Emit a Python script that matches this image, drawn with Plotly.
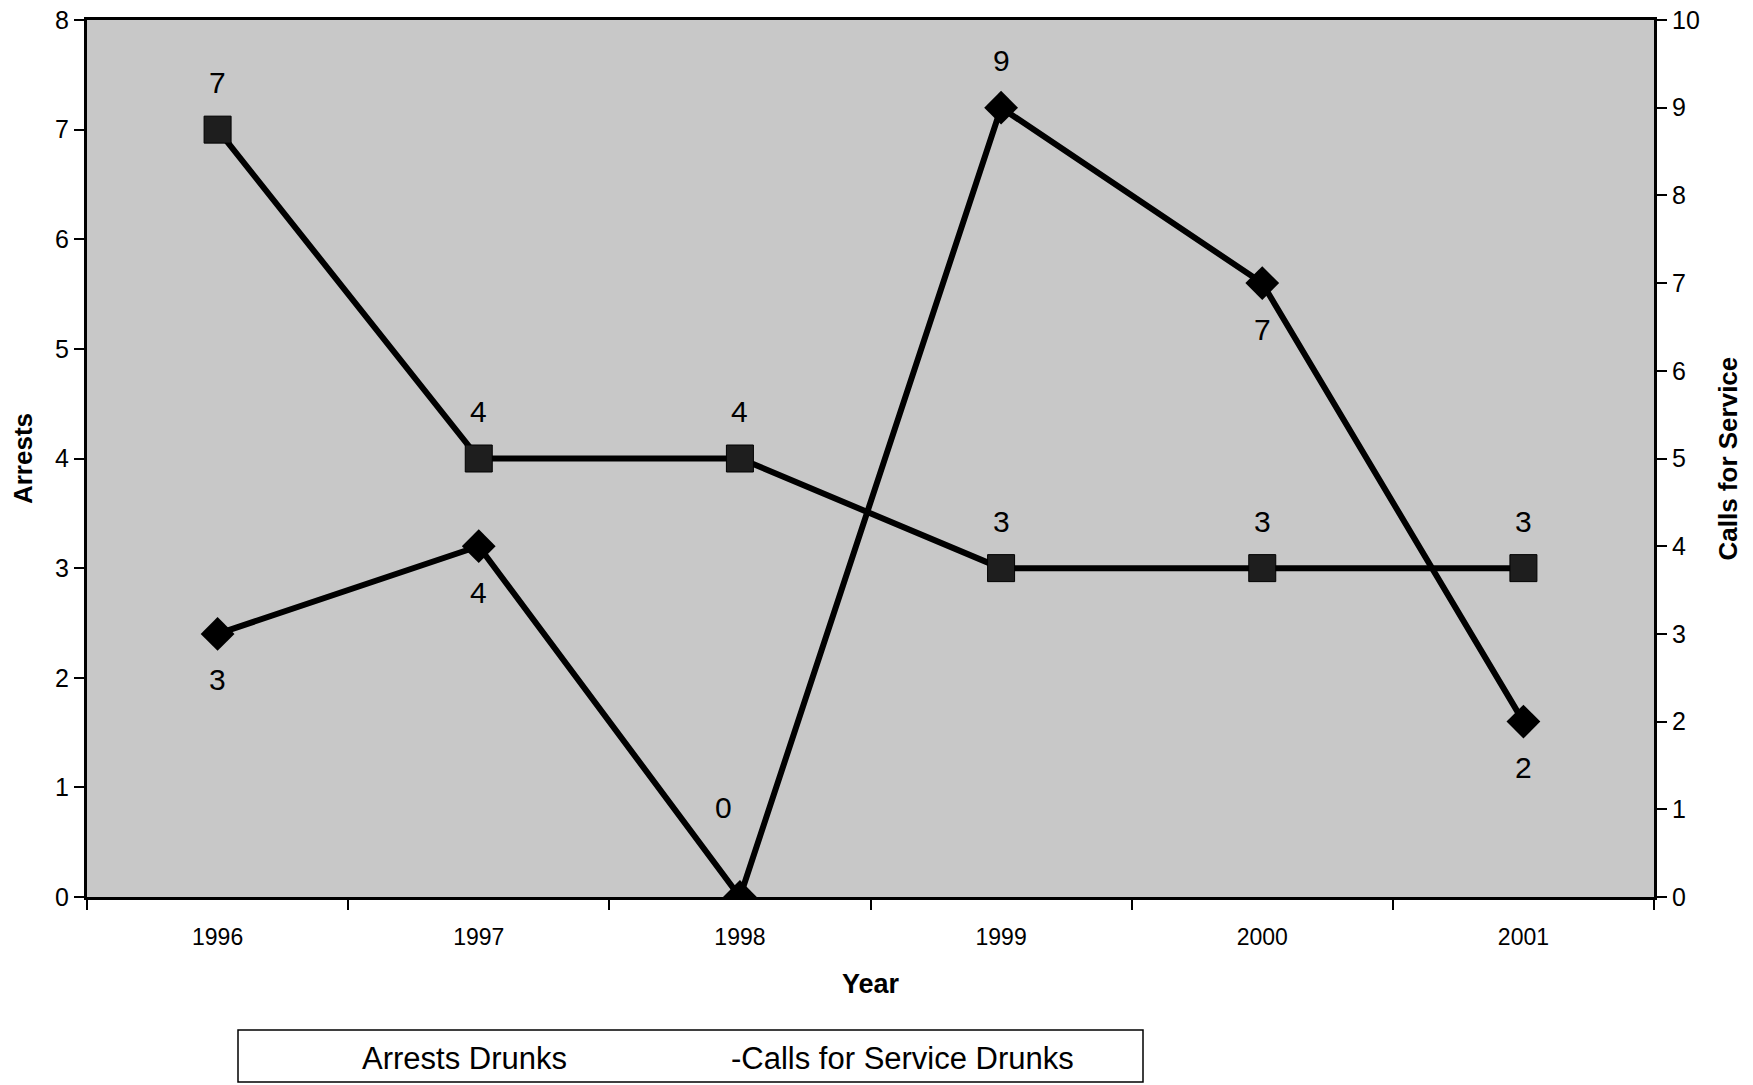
import plotly.graph_objects as go

years = ["1996", "1997", "1998", "1999", "2000", "2001"]
arrests = [7, 4, 4, 3, 3, 3]
calls = [3, 4, 0, 9, 7, 2]
calls_label_pos = ["below", "below", "aboveleft", "above", "below", "below"]

FONT = "Liberation Sans, Arial, sans-serif"

# page offset (browser body margin) compensation
L, T = 79, 12
PR, PB = 1646, 889  # plot area right / bottom in figure px
PW, PH = PR - L, PB - T


def px_x(x):
    return (x - L) / PW


def px_y(y):
    return (PB - y) / PH


fig = go.Figure()
fig.add_trace(go.Scatter(
    x=years, y=arrests, mode="lines+markers", name="Arrests Drunks",
    line=dict(color="black", width=6),
    marker=dict(symbol="square", size=27, color="#1e1e1e", line=dict(color="black", width=1)),
    yaxis="y", showlegend=False))
fig.add_trace(go.Scatter(
    x=years, y=calls, mode="lines+markers", name="-Calls for Service Drunks",
    line=dict(color="black", width=6),
    marker=dict(symbol="diamond", size=26, color="black"),
    yaxis="y2", showlegend=False))

ann = []
for i, yv in enumerate(arrests):
    ann.append(dict(x=i, y=yv, xref="x", yref="y", text=str(yv), showarrow=False,
                    yshift=47, font=dict(family=FONT, size=30, color="black")))
for i, (yv, pos) in enumerate(zip(calls, calls_label_pos)):
    ys = -46 if pos == "below" else 47 if pos == "above" else 90
    xs = -16 if pos == "aboveleft" else 0
    ann.append(dict(x=i, y=yv, xref="x", yref="y2", text=str(yv), showarrow=False,
                    yshift=ys, xshift=xs, font=dict(family=FONT, size=30, color="black")))

# right axis title
ann.append(dict(x=px_x(1719), y=0.5, xref="paper", yref="paper", xanchor="center",
                yanchor="middle", textangle=-90, text="<b>Calls for Service</b>",
                showarrow=False, font=dict(family=FONT, size=26, color="black")))

# legend box contents
ann.append(dict(x=px_x(456), y=px_y(1050), xref="paper", yref="paper",
                xanchor="center", yanchor="middle",
                text="Arrests Drunks", showarrow=False,
                font=dict(family=FONT, size=31, color="black")))
ann.append(dict(x=px_x(894), y=px_y(1050), xref="paper", yref="paper",
                xanchor="center", yanchor="middle",
                text="-Calls for Service Drunks", showarrow=False,
                font=dict(family=FONT, size=31, color="black")))

fig.update_layout(
    width=1753, height=1085,
    margin=dict(l=L, r=1753 - PR, t=T, b=1085 - PB, autoexpand=False),
    paper_bgcolor="white", plot_bgcolor="#c8c8c8",
    font=dict(family=FONT, color="black", size=22),
    annotations=ann,
    shapes=[dict(type="rect", xref="paper", yref="paper",
                 x0=px_x(230), x1=px_x(1135), y0=px_y(1074), y1=px_y(1022),
                 line=dict(color="black", width=1.5), fillcolor="white")],
    xaxis=dict(type="category", range=[-0.5, 5.5], tickson="boundaries",
               ticks="outside", ticklen=10, tickwidth=1.5, tickcolor="black",
               showline=True, linecolor="black", linewidth=3, mirror=True,
               showgrid=False, zeroline=False, ticklabelstandoff=17,
               tickfont=dict(size=23), automargin=False,
               title=dict(text="<b>Year</b>", font=dict(size=27), standoff=26)),
    yaxis=dict(range=[0, 8], dtick=1, ticks="outside", ticklen=10, tickwidth=1.5,
               tickcolor="black", showline=True, linecolor="black", linewidth=3,
               showgrid=False, zeroline=False, tickfont=dict(size=25), automargin=False,
               ticklabeloverflow="allow",
               title=dict(text="<b>Arrests</b>", font=dict(size=26), standoff=24)),
    yaxis2=dict(range=[0, 10], dtick=1, overlaying="y", side="right", ticks="outside",
                ticklen=10, tickwidth=1.5, tickcolor="black", showline=True,
                linecolor="black", linewidth=3, showgrid=False, zeroline=False,
                tickfont=dict(size=25), automargin=False, ticklabeloverflow="allow"),
)

fig.write_html("out.html")
